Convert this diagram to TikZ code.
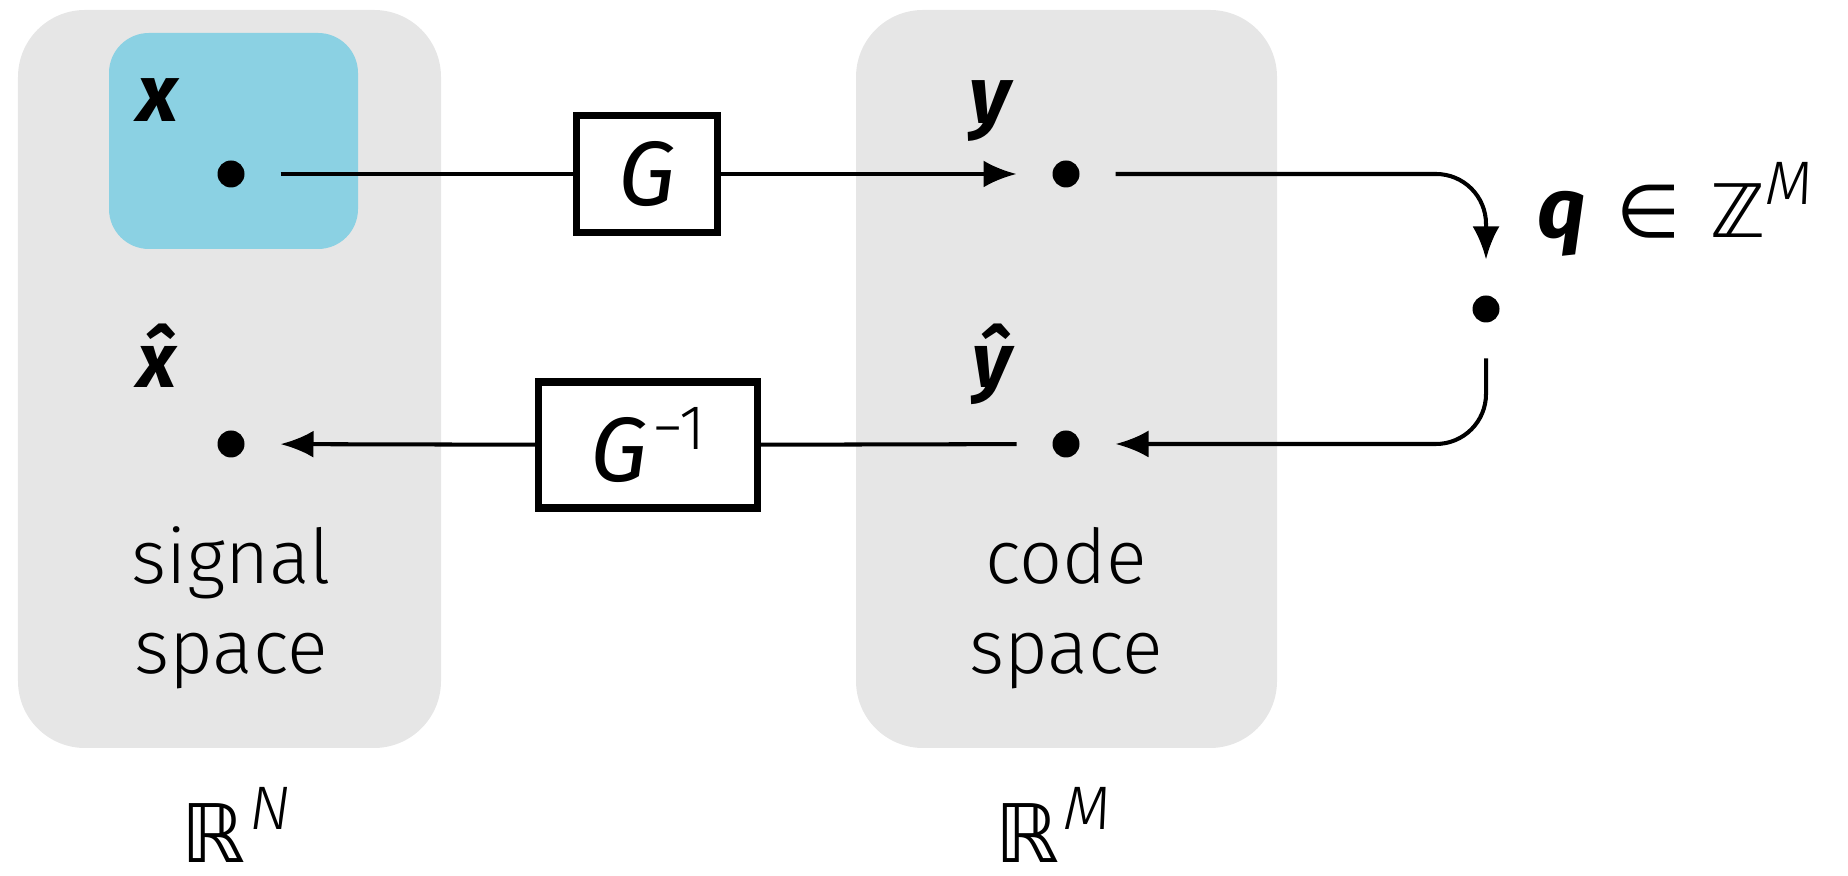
\documentclass[tikz,border=0pt]{standalone}
\usepackage{fontspec}
\setmainfont{Fira Sans}
\newfontfamily\lightfont{Fira Sans Light}
\newfontfamily\symfont{DejaVu Sans}
\usetikzlibrary{arrows.meta, positioning}
\definecolor{PanelGray}{HTML}{E6E6E6}
\definecolor{SignalBlue}{HTML}{8BD1E3}
\newcommand{\upidx}[1]{\raisebox{0.33cm}{\lightfont\fontsize{17.5}{18}\selectfont\itshape #1}}

\begin{document}
\begin{tikzpicture}[
  panel/.style={fill=PanelGray, rounded corners=0.67cm},
  dotpt/.style={circle, fill=black, inner sep=0pt, minimum size=0.27cm, outer sep=0.36cm},
  opbox/.style={draw, line width=2pt, fill=white, inner sep=0pt, font=\fontsize{26}{30}\selectfont\itshape},
  varlbl/.style={anchor=base, inner sep=0pt, font=\fontsize{23}{27}\selectfont\bfseries\itshape},
  spacelbl/.style={align=center, font=\lightfont\fontsize{21.5}{25.6}\selectfont},
  setlbl/.style={anchor=base, inner sep=0pt, font=\symfont\fontsize{23}{27}\selectfont},
  conn/.style={line width=1.15pt},
  flow/.style={conn, -{Latex[length=3.3mm, width=2.7mm]}},
]
\useasboundingbox (0,0) rectangle (18.48,-8.76);

% --- the two spaces ---
\fill[panel] (0.18,-0.10) rectangle (4.41,-7.48);
\fill[panel] (8.56,-0.10) rectangle (12.77,-7.48);
\fill[SignalBlue, rounded corners=0.4cm] (1.09,-0.33) rectangle (3.58,-2.49);

% --- points ---
\node[dotpt] (xdot) at (2.31,-1.74) {};
\node[dotpt] (ydot) at (10.66,-1.74) {};
\node[dotpt] (qdot) at (14.86,-3.09) {};
\node[dotpt] (xhdot) at (2.31,-4.44) {};
\node[dotpt] (yhdot) at (10.66,-4.44) {};

\node[varlbl] (xlab) at (1.58,-1.22) {x};
\node[varlbl] (ylab) at (9.90,-1.24) {y};
\node[varlbl, font=\fontsize{22}{26}\selectfont\bfseries\itshape] (xhlab) at (1.57,-3.88) {\^{x}};
\node[varlbl, font=\fontsize{22}{26}\selectfont\bfseries\itshape] (yhlab) at (9.92,-3.88) {\^{y}};
\node[setlbl, anchor=base west, font=\symfont\fontsize{21}{25}\selectfont] (qlab) at (15.37,-2.38)
  {{\rmfamily\fontsize{24}{28}\selectfont\bfseries\itshape q}\hspace{0.3cm}∈\hspace{0.3cm}ℤ\upidx{M}};

% --- transforms ---
\node[opbox, minimum width=1.41cm, minimum height=1.17cm] (gbox) at (6.47,-1.74) {G};
\node[opbox, minimum width=2.19cm, minimum height=1.26cm] (ginv) at (6.48,-4.45)
  {G\hspace{0.05cm}\raisebox{0.32cm}{\lightfont\fontsize{18}{18}\selectfont\upshape −1}};

% --- names ---
\node[spacelbl] (signame) at (2.31,-6.08) {signal\\space};
\node[spacelbl] (codename) at (10.66,-6.08) {code\\space};
\node[setlbl] (rn) at (2.36,-8.63) {ℝ\hspace{0.04cm}\upidx{N}};
\node[setlbl] (rm) at (10.53,-8.63) {ℝ\hspace{0.04cm}\upidx{M}};

% --- connectors ---
\draw[conn] (xdot) -- (gbox);
\draw[flow] (gbox) -- (ydot);
\draw[flow, rounded corners=0.5cm] (ydot) -| (qdot);
\draw[flow, rounded corners=0.5cm] (qdot) |- (yhdot);
\draw[conn] (yhdot) -- (ginv);
\draw[flow] (ginv) -- (xhdot);

\end{tikzpicture}
\end{document}
